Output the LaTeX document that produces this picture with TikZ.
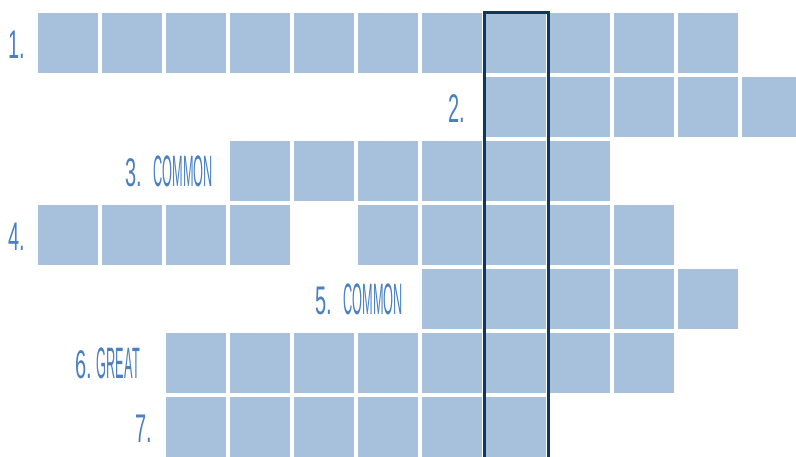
\documentclass[tikz,border=0pt]{standalone}
\usepackage{fontspec}
\setmainfont{Liberation Sans}
\newfontfamily\numfont[FakeStretch=0.5]{Liberation Sans}
\newfontfamily\wordfont[FakeStretch=0.29]{Liberation Sans}
\usetikzlibrary{calc}
\definecolor{cellblue}{RGB}{167,192,220}
\definecolor{labelblue}{RGB}{74,127,193}
\definecolor{navyline}{RGB}{14,55,95}
\begin{document}
\begin{tikzpicture}[x=1pt,y=-1pt,
  cell/.style={fill=cellblue,draw=none,minimum size=60pt,inner sep=0pt,anchor=north west},
  lbl/.style={text=labelblue,inner sep=0pt,anchor=base east,font=\numfont\fontsize{40}{40}\selectfont}]
\useasboundingbox (0,0) rectangle (796,456);
\clip (0,0) rectangle (796,456);
\foreach \r/\lst in {0/{0,...,10},1/{7,...,11},2/{3,...,8},3/{0,1,2,3,5,6,7,8,9},4/{6,...,10},5/{2,...,9},6/{2,...,7}}{
  \foreach \k in \lst {
    \node[cell] (c\r-\k) at ({38+64*\k},{13+64*\r}) {};
  }
}
\newcommand{\wrd}[1]{{\wordfont\fontsize{44}{44}\selectfont #1}}
\node[lbl] (l1) at (25,58) {1.};
\node[lbl] (l2) at (465,122) {2.};
\node[lbl] (l3) at (213,186) {3.\hspace{11pt}\wrd{COMMON}};
\node[lbl] (l4) at (25,250) {4.};
\node[lbl] (l5) at (403,314) {5.\hspace{11pt}\wrd{COMMON}};
\node[lbl] (l6) at (140,378) {6.\hspace{5pt}\wrd{GREAT}};
\node[lbl] (l7) at (152,442) {7.};
\draw[navyline,line width=3pt] ($(c0-7.north west)+(-2,-1)$) rectangle ($(c0-7.north east)+(2,470)$);
\end{tikzpicture}
\end{document}
